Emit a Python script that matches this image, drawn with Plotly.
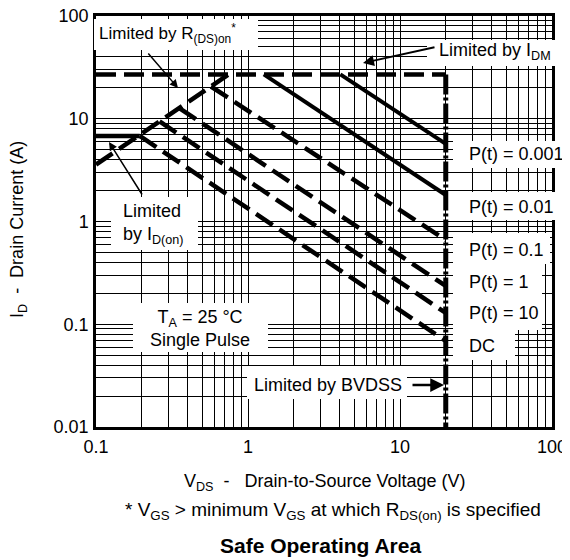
import plotly.graph_objects as go

# ---------------- data ----------------
rds_v = [0.1, 0.738]          # Limited by R(DS)on
rds_i = [3.58, 26.7]
idm_v = [0.1, 20]             # Limited by IDM
idm_i = [27, 27]
bvdss_v = [20, 20]            # Limited by BVDSS
bvdss_i = [27, 0.01]
idon_v = [0.1, 0.194]         # Limited by ID(on)
idon_i = [6.8, 6.8]
p0001_v = [4.05, 20]          # P(t) = 0.001
p0001_i = [27, 5.7]
p001_v = [1.27, 20]           # P(t) = 0.01
p001_i = [27, 1.81]
p01_v = [0.571, 20]           # P(t) = 0.1
p01_i = [20.6, 0.66]
p1_v = [0.353, 20]            # P(t) = 1
p1_i = [12.7, 0.236]
p10_v = [0.262, 20]           # P(t) = 10
p10_i = [9.42, 0.129]
dc_v = [0.194, 20]            # DC
dc_i = [6.8, 0.0687]

x_decades = [0.1, 1, 10, 100]
x_tick_labels = ["0.1", "1", "10", "100"]
y_decades = [0.01, 0.1, 1, 10, 100]
y_tick_labels = ["0.01", "0.1", "1", "10", "100"]

FONT = "Liberation Sans, Arial, Helvetica, sans-serif"


def grid(decades, labels):
    vals, text = [], []
    for k, d in enumerate(decades[:-1]):
        for m in range(1, 10):
            vals.append(m * d)
            text.append(labels[k] if m == 1 else "")
    vals.append(decades[-1])
    text.append(labels[-1])
    return vals, text


xv, xt = grid(x_decades, x_tick_labels)
yv, yt = grid(y_decades, y_tick_labels)

fig = go.Figure()

DASH = "20px,8px"


def add(v, i, width, dash="solid"):
    fig.add_trace(go.Scatter(x=v, y=i, mode="lines",
                             line=dict(color="black", width=width, dash=dash),
                             showlegend=False, hoverinfo="skip"))


add(idm_v, idm_i, 4.5, DASH)
add(rds_v, rds_i, 4.5, DASH)
add(idon_v, idon_i, 4.5)
add(p0001_v, p0001_i, 4)
add(p001_v, p001_i, 4)
add(p01_v, p01_i, 4.5, DASH)
add(p1_v, p1_i, 4.5, DASH)
add(p10_v, p10_i, 4.5, DASH)
add(dc_v, dc_i, 4.5, DASH)
add(bvdss_v, bvdss_i, 5, "20px,3px,3px,3px")

# page body has an 8px margin: figure coords = screen coords - 8
FW, FH = 562, 552
L, R, T, B = 88, 544, 8, 419


def px(x):  # screen pixel -> paper
    return (x - 8 - L) / (R - L)


def py(y):
    return (B - (y - 8)) / (B - T)


shapes = []
boxes = [
    (94, 258, 19, 50),     # R(DS)on
    (427, 566, 40, 66),    # IDM
    (453, 570, 141, 168),  # P 0.001
    (453, 570, 192, 220),  # P 0.01
    (453, 550, 233, 264),  # P 0.1
    (453, 542, 264, 297),  # P 1
    (453, 542, 297, 330),  # P 10
    (453, 515, 330, 360),  # DC
    (247, 407, 366, 399),  # BVDSS
    (111, 198, 197, 250),  # ID(on)
    (133, 268, 303, 352),  # TA
]
for x0, x1, y0, y1 in boxes:
    shapes.append(dict(type="rect", xref="paper", yref="paper",
                       x0=px(x0), x1=px(x1), y0=py(y1), y1=py(y0),
                       fillcolor="white", line=dict(width=0), layer="above"))

ann = []


def text(x, y, s, size=18, xanchor="left", align="left", bold=False, angle=0):
    if bold:
        s = "<b>" + s + "</b>"
    ann.append(dict(x=px(x), y=py(y), xref="paper", yref="paper", text=s,
                    showarrow=False, xanchor=xanchor, yanchor="middle",
                    align=align, textangle=angle,
                    font=dict(family=FONT, size=size, color="black")))


def arrow(hx, hy, tx, ty, w):
    ann.append(dict(x=px(hx), y=py(hy), xref="paper", yref="paper", text="",
                    showarrow=True, axref="pixel", ayref="pixel",
                    ax=tx - hx, ay=ty - hy, arrowhead=2, arrowsize=1.1,
                    arrowwidth=w, arrowcolor="black"))


text(96.5, 34, "Limited by R<sub>(DS)on</sub><sup>*</sup>", size=17)
text(437, 51, "Limited by I<sub>DM</sub>")
text(466.5, 154, "P(t) = 0.001")
text(466.5, 206.5, "P(t) = 0.01")
text(466.5, 250, "P(t) = 0.1")
text(466.5, 281.5, "P(t) = 1")
text(466.5, 312.5, "P(t) = 10")
text(466.5, 346, "DC")
text(251.5, 385, "Limited by BVDSS")
text(120.5, 224, "Limited<br>by I<sub>D(on)</sub>")
text(200, 328, "T<sub>A</sub> = 25 °C<br>Single Pulse", xanchor="center", align="center")

text(325, 482, "V<sub>DS</sub>\u00a0\u00a0-\u00a0\u00a0 Drain-to-Source Voltage (V)", xanchor="center")
text(333, 511, "* V<sub>GS</sub> &gt; minimum V<sub>GS</sub> at which R<sub>DS(on)</sub> is specified",
     xanchor="center", size=19)
text(320, 545, "Safe Operating Area", xanchor="center", bold=True, size=21)
text(18, 230, "I<sub>D</sub>\u00a0\u00a0-\u00a0\u00a0Drain Current (A)", xanchor="center", angle=-90)

arrow(444, 385, 411, 385, 2.5)
arrow(363, 63, 436, 47, 2)
arrow(178, 88, 147, 52, 1.5)
arrow(109, 142, 143, 196, 1.5)

axis_common = dict(type="log", showline=True, linewidth=2.5, linecolor="black",
                   mirror=True, showgrid=True, gridcolor="black", gridwidth=1.2,
                   ticks="", zeroline=False, automargin=False,
                   ticklabeloverflow="allow",
                   tickfont=dict(family=FONT, size=18, color="black"))

fig.update_layout(
    width=FW, height=FH,
    margin=dict(l=L, r=FW - R, t=T, b=FH - B, autoexpand=False),
    paper_bgcolor="white", plot_bgcolor="white",
    font=dict(family=FONT, size=18, color="black"),
    xaxis=dict(range=[-1, 2], tickvals=xv, ticktext=xt, ticklabelstandoff=2, **axis_common),
    yaxis=dict(range=[-2, 2], tickvals=yv, ticktext=yt, ticklabelstandoff=1, **axis_common),
    shapes=shapes, annotations=ann,
)

fig.write_html("out.html")
